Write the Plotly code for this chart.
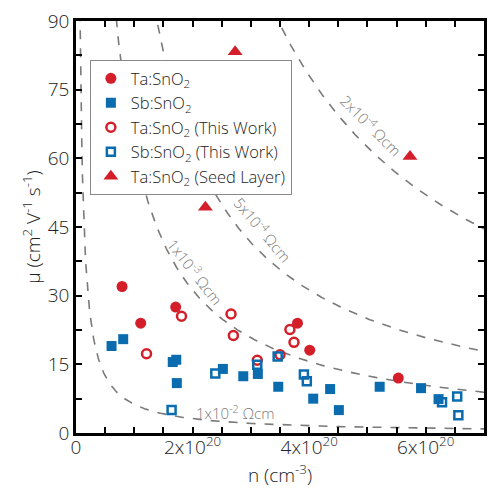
import numpy as np
import plotly.graph_objects as go

# ---- data (n in cm^-3, mobility in cm^2 V^-1 s^-1) ----
ta_n = [0.79e20, 1.11e20, 1.71e20, 3.80e20, 4.01e20, 5.53e20]
ta_mu = [32.0, 24.0, 27.5, 24.0, 18.1, 12.0]

sb_n = [0.61e20, 0.81e20, 1.66e20, 1.72e20, 1.73e20, 2.52e20, 2.87e20, 3.12e20,
        3.47e20, 4.07e20, 4.36e20, 4.51e20, 5.21e20, 5.92e20, 6.22e20]
sb_mu = [19.0, 20.5, 15.5, 16.0, 10.9, 14.0, 12.4, 12.9,
         10.1, 7.5, 9.6, 5.0, 10.1, 9.8, 7.4]

ta_tw_n = [1.21e20, 1.81e20, 2.66e20, 2.70e20, 3.11e20, 3.50e20, 3.67e20, 3.74e20]
ta_tw_mu = [17.3, 25.5, 26.0, 21.3, 15.9, 17.1, 22.6, 19.8]

sb_tw_n = [1.64e20, 2.39e20, 3.11e20, 3.46e20, 3.91e20, 3.96e20, 6.28e20, 6.54e20, 6.56e20]
sb_tw_mu = [5.0, 13.0, 14.9, 16.7, 12.8, 11.3, 6.7, 8.0, 3.9]

seed_n = [2.73e20, 2.22e20, 5.73e20]
seed_mu = [83.3, 49.3, 60.4]

rho_levels = [1e-2, 1e-3, 5e-4, 2e-4]  # Ohm cm
rho_labels = ["1x10<sup>-2</sup> Ωcm", "1x10<sup>-3</sup> Ωcm",
              "5x10<sup>-4</sup> Ωcm", "2x10<sup>-4</sup> Ωcm"]

x_tickvals = [0, 2e20, 4e20, 6e20]
x_ticktext = ["0", "2x10<sup>20</sup>", "4x10<sup>20</sup>", "6x10<sup>20</sup>"]
y_tickvals = [0, 15, 30, 45, 60, 75, 90]

Q = 1.602e-19
RED = "#d41f2a"
BLUE = "#0a6cae"
GREY = "#7a7a7a"
FONT = "Open Sans"

fig = go.Figure()

# iso-resistivity curves mu = 1/(q n rho)
n_grid = np.linspace(0.02e20, 7e20, 600)
for rho in rho_levels:
    mu = 1.0 / (Q * n_grid * rho)
    fig.add_trace(go.Scatter(x=n_grid, y=mu, mode="lines",
                             line=dict(color=GREY, width=1.6, dash="dash"),
                             showlegend=False, hoverinfo="skip"))

fig.add_trace(go.Scatter(x=ta_n, y=ta_mu, mode="markers", name="Ta:SnO<sub>2</sub>",
                         marker=dict(symbol="circle", size=11, color=RED)))
fig.add_trace(go.Scatter(x=sb_n, y=sb_mu, mode="markers", name="Sb:SnO<sub>2</sub>",
                         marker=dict(symbol="square", size=10, color=BLUE)))
fig.add_trace(go.Scatter(x=ta_tw_n, y=ta_tw_mu, mode="markers",
                         name="Ta:SnO<sub>2</sub> (This Work)",
                         marker=dict(symbol="circle-open", size=9, color=RED,
                                     line=dict(width=2.5, color=RED))))
fig.add_trace(go.Scatter(x=sb_tw_n, y=sb_tw_mu, mode="markers",
                         name="Sb:SnO<sub>2</sub> (This Work)",
                         marker=dict(symbol="square-open", size=8, color=BLUE,
                                     line=dict(width=2.5, color=BLUE))))
fig.add_trace(go.Scatter(x=seed_n, y=seed_mu, mode="markers",
                         name="Ta:SnO<sub>2</sub> (Seed Layer)",
                         marker=dict(symbol="triangle-up", size=13, color=RED)))

# curve labels
ann_font = dict(family=FONT, size=15, color=GREY, weight=300)
fig.add_annotation(x=2.72e20, y=4.4, text=rho_labels[0], showarrow=False,
                   textangle=0, font=ann_font)
fig.add_annotation(x=2.05e20, y=35.2, text=rho_labels[1], showarrow=False,
                   textangle=52, font=ann_font)
fig.add_annotation(x=3.2e20, y=44.6, text=rho_labels[2], showarrow=False,
                   textangle=50, font=ann_font)
fig.add_annotation(x=5.06e20, y=67.3, text=rho_labels[3], showarrow=False,
                   textangle=45, font=ann_font)

axis_common = dict(showline=True, linecolor="black", linewidth=2.5, mirror="ticks",
                   ticks="inside", ticklen=6, tickwidth=2, tickcolor="black",
                   showgrid=False, zeroline=False,
                   tickfont=dict(family=FONT, size=19, color="#222", weight=300))

fig.update_xaxes(range=[0, 7e20], tickvals=x_tickvals, ticktext=x_ticktext,
                 ticklabelstandoff=-5,
                 minor=dict(dtick=0.5e20, ticks="inside", ticklen=6, tickwidth=2,
                            tickcolor="black"),
                 title=dict(text="n (cm<sup>-3</sup>)", standoff=2,
                            font=dict(family=FONT, size=19, color="#222", weight=300)),
                 **axis_common)
fig.update_yaxes(range=[0, 90], tickvals=y_tickvals,
                 minor=dict(dtick=7.5, ticks="inside", ticklen=6, tickwidth=2,
                            tickcolor="black"),
                 title=dict(text="μ (cm<sup>2</sup> V<sup>-1</sup> s<sup>-1</sup>)", standoff=3,
                            font=dict(family=FONT, size=19, color="#222", weight=300)),
                 **axis_common)

fig.update_layout(
    width=489, height=497,
    margin=dict(l=76, r=2, t=21, b=64),
    paper_bgcolor="white", plot_bgcolor="white",
    font=dict(family=FONT, color="#222"),
    legend=dict(x=0.034, y=0.905, xanchor="left", yanchor="top",
                bgcolor="white", bordercolor="#888", borderwidth=1,
                font=dict(family=FONT, size=16.5, color="#222", weight=300),
                tracegroupgap=0, itemwidth=30),
)

fig.write_html("out.html")
